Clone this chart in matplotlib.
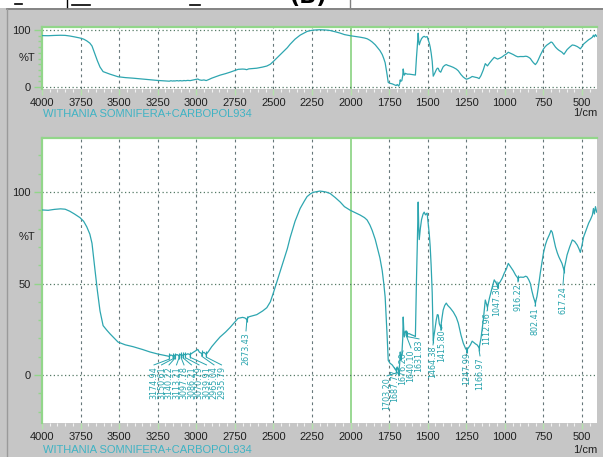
import numpy as np
import matplotlib
matplotlib.use("Agg")
import matplotlib.pyplot as plt
from matplotlib.lines import Line2D
from matplotlib.patches import Rectangle
from matplotlib.ticker import MultipleLocator, FixedLocator

# FTIR spectrum: wavenumber (1/cm) and transmittance (%T)
wavenumber = [
    4000, 3960, 3920, 3880, 3850, 3820, 3790, 3754, 3730, 3710, 3690, 3676, 3665, 3656,
    3641, 3624, 3604, 3580, 3559, 3530, 3507, 3460, 3410, 3350, 3300, 3250, 3200,
    3174.94, 3165, 3150.61, 3145, 3140.22, 3125, 3113.21, 3105, 3097.78, 3086.21, 3080,
    3070.79, 3055, 3039.91, 3020, 3000, 2990, 2980, 2965.04, 2950, 2935.79, 2920, 2900,
    2870, 2846, 2810, 2781, 2750, 2729, 2700, 2685, 2673.43, 2660, 2608, 2570, 2543,
    2520, 2500, 2470, 2440, 2410, 2392, 2360, 2327, 2300, 2282, 2260, 2243, 2220, 2200,
    2180, 2160, 2133, 2100, 2067, 2040, 2002, 1970, 1938, 1910, 1893, 1875, 1860, 1840,
    1828, 1810, 1795, 1785, 1776, 1768, 1763, 1756, 1745, 1730, 1718, 1711, 1703.20,
    1698, 1693, 1687.77, 1682, 1678, 1676.20, 1668, 1662, 1659, 1655, 1652, 1645,
    1640.10, 1635, 1631.83, 1620, 1605, 1590, 1580, 1577, 1573, 1568, 1562, 1558, 1555,
    1548, 1540, 1530, 1523, 1515, 1504, 1497, 1490, 1484, 1478, 1471, 1464.38, 1455,
    1445, 1438, 1432, 1425, 1415.80, 1408, 1400, 1390, 1380, 1370, 1354, 1334, 1315,
    1302, 1285, 1270, 1255, 1247.99, 1235, 1224, 1212, 1205, 1190, 1179, 1166.97, 1155,
    1140, 1127, 1112.96, 1100, 1082, 1069, 1055, 1047.30, 1030, 1017, 1004, 990, 978,
    962, 946, 930, 916.22, 900, 880, 865, 856, 845, 835, 825, 815, 802.41, 792, 783,
    770, 750, 738, 727, 710, 701, 693, 686, 672, 660, 650, 640, 630, 617.24, 608, 597,
    580, 563, 548, 531, 520, 511, 500, 490, 470, 457, 445, 433, 426, 420, 413, 405,
]
transmittance = [
    90.2, 90.0, 90.5, 90.8, 90.6, 89.5, 88.0, 86, 84, 81, 77, 72, 64, 57,
    46, 35, 27, 24.5, 22.5, 20, 18, 16.5, 15.5, 14, 12.6, 11.5, 10.6,
    10.2, 11, 10.4, 11, 10.5, 11.2, 10.6, 11.3, 10.8, 10.9, 11.4,
    11, 11.6, 11.2, 12.4, 13.5, 14, 12.5, 11.8, 12.4, 11.3, 13, 15.5,
    18.5, 20.8, 23.5, 26, 29, 31, 31.5, 31.2, 30.4, 31.8, 33, 35, 36.8,
    40, 45, 53, 61, 69, 75, 84, 91, 95, 97.5, 99, 99.8, 100.2, 100.5,
    100.3, 100, 99.2, 97, 94.5, 92, 90, 88.7, 87.4, 86, 84.7, 82, 79, 74,
    70, 64, 57, 50, 42.6, 30, 21, 8, 6.5, 5.5, 4, 3.2, 2.7,
    4.4, 3, 1.6, 6, 12.6, 10, 11, 20, 31.7, 24, 20.8, 24,
    23.2, 23, 22.5, 22.6, 22, 21.5, 21, 35, 52, 70, 94.5, 80, 74,
    80, 85, 88, 89, 87.5, 88.5, 83, 77, 70, 60, 45, 19, 24,
    30, 33, 32.8, 28, 26, 31, 35.5, 38, 39.3, 38, 36.6, 34.4, 31.5,
    28.4, 22, 17.5, 14.5, 13.7, 15, 16.4, 18.5, 18, 17, 16.4, 14.8, 20,
    30, 41, 37, 42, 48, 52, 50, 49, 51, 53, 55.7, 58, 61,
    59, 57, 54.5, 53, 53.5, 53.4, 54, 53.6, 52, 50, 46, 42.6, 39.3, 43, 48,
    56, 66.7, 71, 73.8, 77, 79, 78, 75.4, 70, 66.7, 64.5, 62.8, 61, 57.4, 61, 65.6,
    70, 73.8, 73, 71, 69, 67, 71, 75.4, 80, 83, 85, 87.4, 91, 88, 92, 89,
]

# labelled peaks
peak_labels = ["3174.94", "3150.61", "3140.22", "3113.21", "3097.78", "3086.21",
               "3070.79", "3039.91", "2965.04", "2935.79", "2673.43", "1703.20",
               "1687.77", "1676.20", "1640.10", "1631.83", "1464.38", "1415.80",
               "1247.99", "1166.97", "1112.96", "1047.30", "916.22", "802.41", "617.24"]
# where each label sits (pixel column, pixel row of the text top)
label_px = [154, 161.5, 169, 176.5, 184, 191.5, 199, 206.5, 214, 221.5, 246, 387,
            394.5, 403, 411, 419, 433, 442, 467, 480, 487, 497, 518, 535, 563]
label_top_px = [366] * 10 + [332, 377, 369, 352, 349, 340, 346, 329, 352, 357,
                             312, 283, 283, 307, 286]

W, H = 603, 457
BG = "#c6c6c6"
CURVE = "#2ea6b0"
LABEL = "#27a3ad"
GREEN = "#92d68a"
NARROW = ["Liberation Sans Narrow", "Liberation Sans", "DejaVu Sans"]

plt.rcParams["font.family"] = NARROW

fig = plt.figure(figsize=(W / 100, H / 100), dpi=100, facecolor=BG)


def px_box(l, t, r, b):
    return [l / W, 1 - b / H, (r - l) / W, (b - t) / H]


def style_panel(ax, ylim, yticks):
    ax.set_facecolor("white")
    ax.set_xlim(4000, 403)
    ax.set_ylim(*ylim)
    for x in range(3750, 499, -250):
        if x != 2000:
            ax.axvline(x, color="#66777a", lw=0.8, ls=(0, (2.5, 3)), zorder=1)
    ax.axvline(2000, color=GREEN, lw=1.3, zorder=1)
    for y in yticks:
        ax.axhline(y, color="#557a66", lw=0.9, ls=(0, (1, 2)), zorder=1)
    ax.plot(wavenumber, transmittance, color=CURVE, lw=0.9, zorder=3)

    for s in ["bottom", "right"]:
        ax.spines[s].set_visible(False)
    for s in ["top", "left"]:
        ax.spines[s].set_color(GREEN)
        ax.spines[s].set_linewidth(1.6)

    ax.xaxis.set_major_locator(FixedLocator(list(range(4000, 499, -250))))
    ax.xaxis.set_minor_locator(MultipleLocator(50))
    ax.yaxis.set_major_locator(FixedLocator(yticks))
    ax.yaxis.set_minor_locator(MultipleLocator(10))
    ax.set_yticklabels([str(v) for v in yticks])
    ax.tick_params(axis="x", which="major", length=4, width=1, color="#b4e2ac",
                   labelsize=8, pad=2.5, labelcolor="#202020")
    ax.tick_params(axis="x", which="minor", length=2.5, width=0.8, color="#f2f2f2")
    ax.tick_params(axis="y", which="major", length=6, width=1, color=GREEN,
                   labelsize=8, pad=2, labelcolor="#202020")
    ax.tick_params(axis="y", which="minor", length=3, width=1, color=GREEN)


ax_top = fig.add_axes(px_box(42, 27, 597, 89))
style_panel(ax_top, (-3.5, 105.3), [0, 100])

ax_bot = fig.add_axes(px_box(42, 138, 597, 423))
bot_ylim = (-26.2, 129.5)
style_panel(ax_bot, bot_ylim, [0, 50, 100])

# peak markers and rotated wavenumber labels
wn_rev = np.array(wavenumber[::-1], dtype=float)
t_rev = np.array(transmittance[::-1], dtype=float)
px_per_wn = (597 - 42) / (4000 - 403)
for txt, lx, ltop in zip(peak_labels, label_px, label_top_px):
    pk = float(txt)
    pt = float(np.interp(pk, wn_rev, t_rev))
    lwn = 4000 - (lx - 42) / px_per_wn
    lt = bot_ylim[1] - (ltop - 138) / 285 * (bot_ylim[1] - bot_ylim[0])
    ax_bot.plot([pk], [pt], marker="|", ms=5, mew=0.8, color=LABEL, zorder=4)
    ax_bot.plot([pk, pk, lwn], [pt, pt - 1.5, lt + 0.6], color=LABEL, lw=0.7, zorder=4)
    ax_bot.text(lwn, lt, txt, rotation=90, ha="center", va="top", fontsize=5.8,
                color=LABEL, family="DejaVu Sans", zorder=5)

# captions around the panels
for ytxt in (114, 450):
    fig.text(43 / W, 1 - ytxt / H, "WITHANIA SOMNIFERA+CARBOPOL934", ha="left",
             va="center", fontsize=8, color="#3fb3c4")
for ytxt in (113, 450):
    fig.text(597 / W, 1 - ytxt / H, "1/cm", ha="right", va="center", fontsize=8,
             color="#202020")
for ytxt in (58, 237):
    fig.text(27 / W, 1 - ytxt / H, "%T", ha="center", va="center", fontsize=8,
             color="#202020")

# window chrome at the top edge
fig.patches.append(Rectangle((0, 1 - 8 / H), 1, 8 / H, transform=fig.transFigure,
                             facecolor="white", edgecolor="none", zorder=0))
fig.lines.append(Line2D([7 / W, 1], [1 - 9 / H, 1 - 9 / H], transform=fig.transFigure,
                        color="#7a7a7a", lw=1.2))
fig.lines.append(Line2D([7 / W, 7 / W], [0, 1 - 9 / H], transform=fig.transFigure,
                        color="#9a9a9a", lw=1))
for x0, x1, y in [(15, 22, 4), (72, 90, 5), (190, 200, 5)]:
    fig.lines.append(Line2D([x0 / W, x1 / W], [1 - y / H, 1 - y / H],
                            transform=fig.transFigure, color="black", lw=1.2))
for x, col in [(67, "black"), (350, "#808080")]:
    fig.lines.append(Line2D([x / W, x / W], [1, 1 - 7 / H],
                            transform=fig.transFigure, color=col, lw=1))
fig.text(308 / W, 1 - 3 / H, "(B)", ha="center", va="baseline", fontsize=16,
         fontweight="bold", color="black", family="DejaVu Sans")

fig.savefig("out.png", dpi=100, facecolor=BG)
